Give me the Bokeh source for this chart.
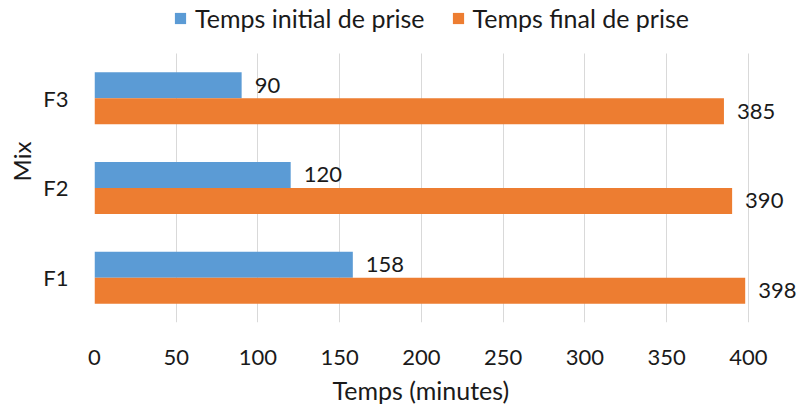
from bokeh.plotting import figure
from bokeh.models import (ColumnDataSource, Range1d, Legend, LegendItem,
                          LabelSet, FixedTicker, Title)
from bokeh.transform import dodge
from bokeh.core.properties import value
from bokeh.embed import file_html
from bokeh.resources import INLINE

# ---- data ----
mixes = ["F1", "F2", "F3"]
initial_setting = [158, 120, 90]
final_setting = [398, 390, 385]
series_names = ["Temps initial de prise", "Temps final de prise"]
x_ticks = [0, 50, 100, 150, 200, 250, 300, 350, 400]
x_title = "Temps (minutes)"
y_title = "Mix"

BLUE = "#5B9BD5"
ORANGE = "#ED7D31"
FONT = "Lato"
TXT = "#1a1a1a"

ypos = list(range(len(mixes)))
src = ColumnDataSource(dict(
    y=ypos,
    mix=mixes,
    initial=initial_setting,
    final=final_setting,
    initial_txt=[str(v) for v in initial_setting],
    final_txt=[str(v) for v in final_setting],
))

p = figure(width=798, height=410,
           y_range=Range1d(-0.5, 3.09),
           x_range=Range1d(0, 430.6),
           output_backend="svg", toolbar_location=None,
           min_border_left=94, min_border_right=0,
           min_border_top=0, min_border_bottom=87)
p.outline_line_color = None
p.background_fill_color = "white"
p.border_fill_color = "white"

off = 0.145
bh = 0.29
r1 = p.hbar(y=dodge("y", off), left=0, right="initial", height=bh,
            source=src, fill_color=BLUE, line_color=None)
r2 = p.hbar(y=dodge("y", -off), left=0, right="final", height=bh,
            source=src, fill_color=ORANGE, line_color=None)

for fld, o in (("initial", off), ("final", -off)):
    p.add_layout(LabelSet(x=fld, y=dodge("y", o), text=fld + "_txt",
                          source=src, x_offset=13, text_baseline="middle",
                          text_align="left", text_font=value(FONT),
                          text_font_size="22px", text_color=TXT))

# axes
xa = p.xaxis[0]
xa.ticker = FixedTicker(ticks=x_ticks)
xa.axis_line_color = None
xa.major_tick_line_color = None
xa.minor_tick_line_color = None
xa.major_tick_out = 0
xa.major_tick_in = 0
xa.major_label_standoff = 27
xa.major_label_text_font = FONT
xa.major_label_text_font_size = "22px"
xa.major_label_text_color = TXT

# x-axis title, centred under the 0-400 part of the axis
p.add_layout(Title(text=x_title, align="left", offset=238, standoff=11,
                   text_font=FONT, text_font_size="25px",
                   text_font_style="normal", text_color=TXT), "below")

ya = p.yaxis[0]
ya.ticker = FixedTicker(ticks=ypos)
ya.major_label_overrides = {i: m for i, m in zip(ypos, mixes)}
ya.axis_line_color = None
ya.major_tick_line_color = None
ya.minor_tick_line_color = None
ya.major_tick_out = 0
ya.major_tick_in = 0
ya.major_label_standoff = 26
ya.major_label_text_font = FONT
ya.major_label_text_font_size = "22px"
ya.major_label_text_color = TXT
ya.axis_label = y_title
ya.axis_label_text_font = FONT
ya.axis_label_text_font_size = "24px"
ya.axis_label_text_font_style = "normal"
ya.axis_label_text_color = TXT
ya.axis_label_standoff = 4

p.ygrid.grid_line_color = None
p.xgrid.grid_line_color = "#d9d9d9"
p.xgrid.grid_line_width = 1
p.xgrid.cross_bounds = (-0.5, 2.5)

legend = Legend(items=[LegendItem(label=series_names[0], renderers=[r1]),
                       LegendItem(label=series_names[1], renderers=[r2])],
                orientation="horizontal", location=(79, 289),
                padding=0, margin=0, spacing=26,
                glyph_width=14, glyph_height=14, label_standoff=8,
                label_text_font=FONT, label_text_font_size="25px",
                label_text_color=TXT,
                border_line_color=None, background_fill_alpha=0)
p.add_layout(legend)

open("out.html", "w").write(file_html(p, INLINE))
